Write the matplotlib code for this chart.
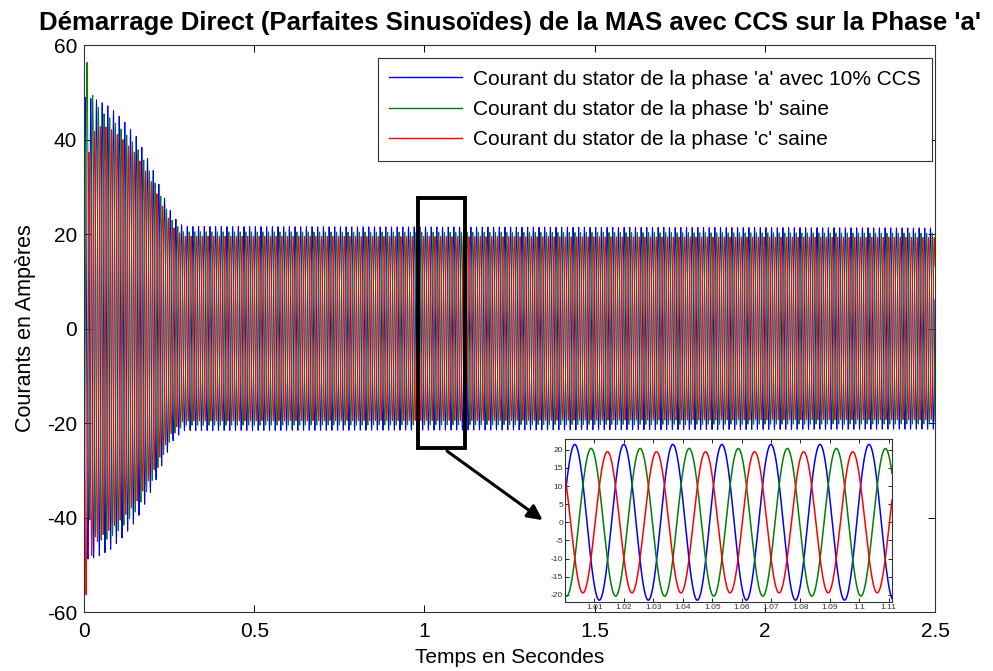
import numpy as np
import matplotlib.pyplot as plt
from matplotlib.patches import Rectangle

plt.rcParams['font.family'] = ['Liberation Sans', 'DejaVu Sans']
plt.rcParams['axes.unicode_minus'] = False

# signal parameters
freq = 60.0                      # Hz (period ~0.0167 s in the zoom)
t_peak_a = 0.0033                # first positive peak of phase a
amp_steady = [21.3, 20.2, 19.3]  # steady peak of phases a, b, c
dc_start = [0.0, 18.0, -18.0]    # start-up offset per phase
dc_tau = 0.015

# envelope of phase a during the start
env_t = [0, 0.037, 0.076, 0.115, 0.154, 0.184, 0.203, 0.223, 0.243, 0.262, 0.292, 2.5]
env_a = [49, 48.4, 46.9, 44.1, 40.6, 36.4, 33.5, 30.0, 26.5, 23.7, 21.6, 21.3]

labels = ["Courant du stator de la phase 'a' avec 10% CCS",
          "Courant du stator de la phase 'b' saine",
          "Courant du stator de la phase 'c' saine"]
colors = ["#0000ff", "#008000", "#ff0000"]

t = np.arange(0, 2.5, 1e-4)
scale = np.interp(t, env_t, env_a) / amp_steady[0]
currents = []
for k in range(3):
    i_k = amp_steady[k] * scale * np.cos(2 * np.pi * freq * (t - t_peak_a) - k * 2 * np.pi / 3)
    i_k = i_k + dc_start[k] * np.exp(-t / dc_tau)
    currents.append(i_k)

fig = plt.figure(figsize=(9.93, 6.71), dpi=100)
ax = fig.add_axes([0.0846, 0.0879, 0.857, 0.845])
for k in range(3):
    ax.plot(t, currents[k], color=colors[k], lw=0.7, label=labels[k])

ax.set_xlim(0, 2.5)
ax.set_ylim(-60, 60)
ax.set_xticks([0, 0.5, 1, 1.5, 2, 2.5])
ax.set_xticklabels(["0", "0.5", "1", "1.5", "2", "2.5"])
ax.set_yticks([-60, -40, -20, 0, 20, 40, 60])
ax.tick_params(direction='in', top=True, right=True, labelsize=15, length=5, width=0.7)
ax.tick_params(axis='x', pad=7)
ax.tick_params(axis='y', pad=5)
for s in ax.spines.values():
    s.set_linewidth(0.8)
    s.set_color("#333333")

ax.set_title("Démarrage Direct (Parfaites Sinusoïdes) de la MAS avec CCS sur la Phase 'a'",
             fontsize=18.5, fontweight='bold', pad=11)
ax.set_xlabel("Temps en Secondes", fontsize=15, labelpad=5)
ax.set_ylabel("Courants en Ampères", fontsize=15.5)
ax.yaxis.set_label_coords(-0.057, 0.5)

leg = ax.legend(loc='upper right', bbox_to_anchor=(0.9965, 0.977), borderaxespad=0,
                fontsize=15, handlelength=3.5, handletextpad=0.5, labelspacing=0.55,
                borderpad=0.55, fancybox=False, framealpha=1, edgecolor='#333333')
leg.get_frame().set_linewidth(0.8)
for h in leg.get_lines():
    h.set_linewidth(1.0)

# zoom box and arrow
ax.add_patch(Rectangle((0.982, -25.3), 0.138, 52.9, fill=False, lw=2.8,
                       edgecolor='black', zorder=10))
ax.annotate("", xy=(1.354, -40.9), xytext=(1.06, -25.6),
            arrowprops=dict(arrowstyle='-|>,head_length=0.9,head_width=0.45',
                            lw=2.2, color='black'), zorder=10)

# inset
axi = fig.add_axes([0.569, 0.1028, 0.329, 0.243])
axi.set_facecolor('white')
m = (t >= 0.999) & (t <= 1.112)
for k in range(3):
    axi.plot(t[m], currents[k][m], color=colors[k], lw=1.1)
axi.set_xlim(1.0, 1.111)
axi.set_ylim(-22, 23)
xt = [1.01, 1.02, 1.03, 1.04, 1.05, 1.06, 1.07, 1.08, 1.09, 1.1, 1.11]
axi.set_xticks(xt)
axi.set_xticklabels([("%.2f" % v).rstrip('0') for v in xt])
axi.set_yticks([-20, -15, -10, -5, 0, 5, 10, 15, 20])
axi.tick_params(direction='in', top=True, right=True, labelsize=6, length=3,
                width=0.6, pad=1.5, labelcolor='#333333')
for s in axi.spines.values():
    s.set_linewidth(0.8)
    s.set_color("#333333")

fig.savefig("out.png", dpi=100)
